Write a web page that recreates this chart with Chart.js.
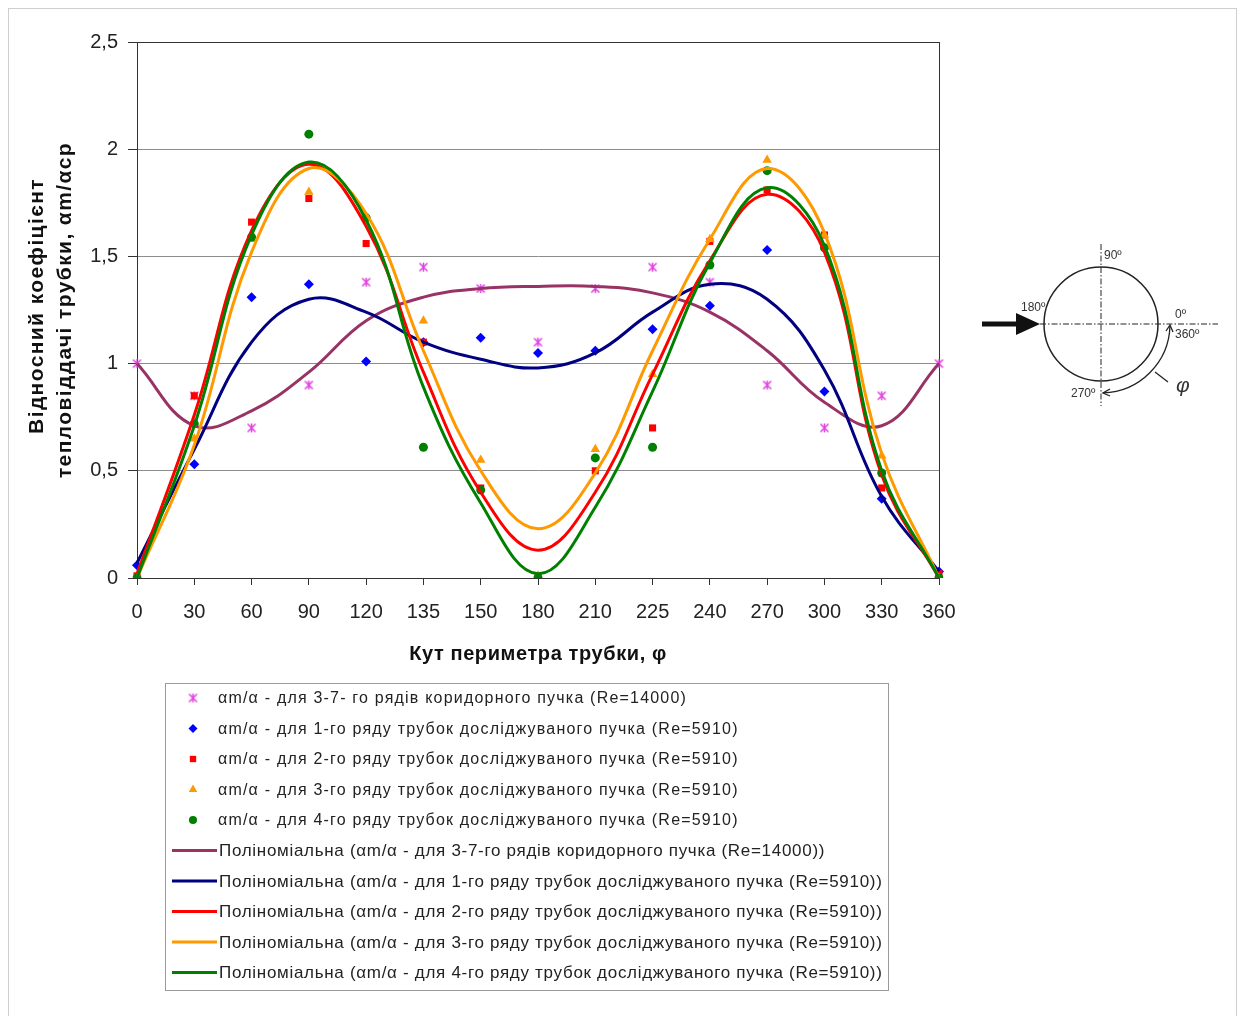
<!DOCTYPE html>
<html>
<head>
<meta charset="utf-8">
<script src="https://cdn.jsdelivr.net/npm/chart.js@4.4.1/dist/chart.umd.min.js"></script>
<style>
  html, body { margin: 0; padding: 0; background: #fff; }
  #wrap { width: 1240px; height: 1016px; position: relative; }
</style>
</head>
<body>
<div id="wrap"><canvas id="myChart" width="1240" height="1016"></canvas></div>
<script>
// кути по периметру трубки (категорії осі X)
const angles = ['0', '30', '60', '90', '120', '135', '150', '180', '210', '225', '240', '270', '300', '330', '360'];

// виміряні точки αm/α
const row37 = [1.00, 0.85, 0.70, 0.90, 1.38, 1.45, 1.35, 1.10, 1.35, 1.45, 1.38, 0.90, 0.70, 0.85, 1.00];
const row1 = [0.06, 0.53, 1.31, 1.37, 1.01, 1.10, 1.12, 1.05, 1.06, 1.16, 1.27, 1.53, 0.87, 0.37, 0.03];
const row2 = [0.01, 0.85, 1.66, 1.77, 1.56, 1.10, 0.42, 0.01, 0.50, 0.70, 1.57, 1.81, 1.60, 0.42, 0.02];
const row3 = [0.00, 0.65, 1.58, 1.80, 1.68, 1.20, 0.55, 0.01, 0.60, 0.95, 1.58, 1.95, 1.60, 0.57, 0.00];
const row4 = [0.00, 0.72, 1.59, 2.07, 1.68, 0.61, 0.41, 0.00, 0.56, 0.61, 1.46, 1.90, 1.54, 0.49, 0.00];

// поліноміальні лінії тренду (значення зчитані з кривих)
const fit37 = [1.00, 0.71, 0.78, 0.96, 1.20, 1.31, 1.35, 1.36, 1.36, 1.33, 1.24, 1.06, 0.82, 0.71, 1.00];
const fit1 = [0.07, 0.60, 1.10, 1.30, 1.24, 1.10, 1.02, 0.98, 1.05, 1.24, 1.37, 1.30, 0.97, 0.38, 0.03];
const fit2 = [0.02, 0.76, 1.62, 1.93, 1.64, 0.96, 0.40, 0.13, 0.40, 0.95, 1.48, 1.79, 1.52, 0.48, 0.00];
const fit3 = [0.00, 0.62, 1.52, 1.91, 1.70, 1.06, 0.50, 0.23, 0.49, 1.06, 1.58, 1.91, 1.61, 0.58, 0.00];
const fit4 = [0.00, 0.71, 1.60, 1.94, 1.67, 0.89, 0.35, 0.02, 0.33, 0.87, 1.47, 1.82, 1.55, 0.50, 0.00];

const yTitle = ['Відносний коефіцієнт', 'тепловіддачі трубки, αm/αcp'];
const xTitle = 'Кут периметра трубки, φ';

const FONT = "'Liberation Sans', Arial, sans-serif";

// маркер-зірочка як в Excel: косий хрест + вертикальна риска
function excelStar(color) {
    const cv = document.createElement('canvas');
    cv.width = 11;
    cv.height = 11;
    const c = cv.getContext('2d');
    c.strokeStyle = color;
    c.lineWidth = 1.5;
    c.beginPath();
    c.moveTo(1.5, 1.5); c.lineTo(9.5, 9.5);
    c.moveTo(9.5, 1.5); c.lineTo(1.5, 9.5);
    c.moveTo(5.5, 1); c.lineTo(5.5, 10);
    c.stroke();
    return cv;
}

function pointSet(label, data, color, style, r) {
    return {
        label: label,
        data: data,
        showLine: false,
        pointStyle: style,
        pointRadius: r,
        pointBackgroundColor: color,
        pointBorderColor: color,
        pointBorderWidth: 0,
        borderColor: color,
        backgroundColor: color
    };
}

function trendSet(label, data, color) {
    return {
        label: label,
        data: data,
        borderColor: color,
        backgroundColor: color,
        borderWidth: 3,
        pointRadius: 0,
        tension: 0.4,
        fill: false
    };
}

const datasets = [
    pointSet('αm/α - для 3-7- го рядів коридорного пучка (Re=14000)', row37, '#E040E0', excelStar('#E040E0'), 5),
    pointSet('αm/α - для 1-го ряду трубок досліджуваного пучка (Re=5910)', row1, '#0000FF', 'rectRot', 5),
    pointSet('αm/α - для 2-го ряду трубок досліджуваного пучка (Re=5910)', row2, '#FF0000', 'rect', 5),
    pointSet('αm/α - для 3-го ряду трубок досліджуваного пучка (Re=5910)', row3, '#FF9900', 'triangle', 5.5),
    pointSet('αm/α - для 4-го ряду трубок досліджуваного пучка (Re=5910)', row4, '#008000', 'circle', 4.5),
    trendSet('Поліноміальна (αm/α - для 3-7-го рядів коридорного пучка (Re=14000))', fit37, '#993366'),
    trendSet('Поліноміальна (αm/α - для 1-го ряду трубок досліджуваного пучка (Re=5910))', fit1, '#000080'),
    trendSet('Поліноміальна (αm/α - для 2-го ряду трубок досліджуваного пучка (Re=5910))', fit2, '#FF0000'),
    trendSet('Поліноміальна (αm/α - для 3-го ряду трубок досліджуваного пучка (Re=5910))', fit3, '#FF9900'),
    trendSet('Поліноміальна (αm/α - для 4-го ряду трубок досліджуваного пучка (Re=5910))', fit4, '#008000')
];
// пізніші серії малюються зверху, як в Excel
datasets.forEach((d, i) => { d.order = datasets.length - i; });

// рамка області побудови
const plotBorder = {
    id: 'plotBorder',
    beforeDatasetsDraw(chart) {
        const a = chart.chartArea;
        const c = chart.ctx;
        c.save();
        c.strokeStyle = '#333';
        c.lineWidth = 1;
        c.strokeRect(Math.round(a.left) + 0.5, Math.round(a.top) + 0.5, Math.round(a.right - a.left), Math.round(a.bottom - a.top));
        c.restore();
    }
};

// підписи осей (з розрядкою, як в оригіналі)
const axisTitles = {
    id: 'axisTitles',
    afterDraw(chart) {
        const c = chart.ctx;
        const a = chart.chartArea;
        c.save();
        c.fillStyle = '#111';
        c.textAlign = 'center';
        c.textBaseline = 'middle';
        c.font = 'bold 20px ' + FONT;
        c.letterSpacing = '0.6px';
        c.fillText(xTitle, (a.left + a.right) / 2, 654);

        c.font = 'bold 21px ' + FONT;
        c.letterSpacing = '1.4px';
        c.translate(37, 306);
        c.rotate(-Math.PI / 2);
        c.fillText(yTitle[0], 0, 0);
        c.fillText(yTitle[1], -4, 28);
        c.restore();
    }
};

// легенда в рамці під графіком
const boxLegend = {
    id: 'boxLegend',
    afterDraw(chart) {
        const c = chart.ctx;
        c.save();
        c.strokeStyle = '#9a9a9a';
        c.lineWidth = 1;
        c.strokeRect(165.5, 683.5, 723, 307);
        c.textBaseline = 'middle';
        chart.data.datasets.forEach((ds, i) => {
            const y = 698 + i * 30.5;
            if (ds.showLine === false) {
                c.fillStyle = ds.pointBackgroundColor;
                c.strokeStyle = ds.pointBorderColor;
                c.lineWidth = 1;
                Chart.helpers.drawPoint(c, {
                    pointStyle: ds.pointStyle,
                    radius: ds.pointRadius * 0.9,
                    rotation: 0,
                    borderWidth: 0
                }, 193, y);
                c.fillStyle = '#222';
                c.font = '16px ' + FONT;
                c.letterSpacing = '1.2px';
                c.fillText(ds.label, 218, y + 1);
            } else {
                c.strokeStyle = ds.borderColor;
                c.lineWidth = 3;
                c.beginPath();
                c.moveTo(172, y);
                c.lineTo(217, y);
                c.stroke();
                c.fillStyle = '#222';
                c.font = '17px ' + FONT;
                c.letterSpacing = '0.7px';
                c.fillText(ds.label, 219, y + 1);
            }
        });
        c.restore();
    }
};

// схема обтікання трубки праворуч
const tubeSketch = {
    id: 'tubeSketch',
    afterDraw(chart) {
        const c = chart.ctx;
        const cx = 1101, cy = 324, r = 57;
        c.save();
        c.strokeStyle = '#222';
        c.fillStyle = '#111';

        c.lineWidth = 1;
        c.setLineDash([6, 2, 1.5, 2]);
        c.beginPath();
        c.moveTo(1040, cy); c.lineTo(1218, cy);
        c.moveTo(cx, 244); c.lineTo(cx, 406);
        c.stroke();
        c.setLineDash([]);

        c.lineWidth = 1.5;
        c.beginPath();
        c.arc(cx, cy, r, 0, Math.PI * 2);
        c.stroke();

        // стрілка потоку
        c.fillRect(982, cy - 2.5, 38, 5);
        c.beginPath();
        c.moveTo(1040, cy); c.lineTo(1016, cy - 11); c.lineTo(1016, cy + 11);
        c.closePath();
        c.fill();

        // дуга кута φ
        const R = 69;
        c.lineWidth = 1.3;
        c.beginPath();
        c.arc(cx, cy, R, 0.03, Math.PI / 2 - 0.03);
        c.stroke();
        c.beginPath();
        c.moveTo(cx + R - 4, cy + 7); c.lineTo(cx + R, cy + 1); c.lineTo(cx + R + 3, cy + 8);
        c.moveTo(cx + 9, cy + R - 4); c.lineTo(cx + 2, cy + R); c.lineTo(cx + 9, cy + R + 3);
        c.stroke();
        c.beginPath();
        c.moveTo(1155, 372); c.lineTo(1168, 382);
        c.stroke();

        c.fillStyle = '#333';
        c.font = '12px ' + FONT;
        c.textBaseline = 'middle';
        c.textAlign = 'left';
        c.fillText('90º', 1104, 256);
        c.fillText('180º', 1021, 308);
        c.fillText('0º', 1175, 315);
        c.fillText('360º', 1175, 335);
        c.fillText('270º', 1071, 394);
        c.font = 'italic 21px ' + FONT;
        c.fillText('φ', 1176, 386);
        c.restore();
    }
};

// зовнішня рамка рисунка
const outerFrame = {
    id: 'outerFrame',
    beforeDraw(chart) {
        const c = chart.ctx;
        c.save();
        c.fillStyle = '#fff';
        c.fillRect(0, 0, chart.width, chart.height);
        c.strokeStyle = '#cfcfcf';
        c.lineWidth = 1;
        c.strokeRect(8.5, 8.5, 1228, 1012);
        c.restore();
    }
};

const ctx = document.getElementById('myChart').getContext('2d');
const myChart = new Chart(ctx, {
    type: 'line',
    data: {
        labels: angles,
        datasets: datasets
    },
    options: {
        responsive: false,
        animation: false,
        layout: {
            padding: { left: 20, right: 301, top: 42, bottom: 346 }
        },
        plugins: {
            legend: { display: false },
            tooltip: { enabled: false }
        },
        scales: {
            x: {
                type: 'category',
                offset: false,
                afterFit(s) { s.height = 92; },
                grid: { display: true, drawOnChartArea: false, tickLength: 7, tickColor: '#333' },
                border: { color: '#333' },
                ticks: {
                    color: '#222',
                    font: { size: 20, family: FONT },
                    padding: 15,
                    maxRotation: 0,
                    autoSkip: false
                }
            },
            y: {
                min: 0,
                max: 2.5,
                afterFit(s) { s.width = 117; },
                grid: { color: '#8c8c8c', tickLength: 9, tickColor: '#333' },
                border: { color: '#333' },
                ticks: {
                    stepSize: 0.5,
                    color: '#222',
                    font: { size: 20, family: FONT },
                    padding: 10,
                    callback: v => String(v).replace('.', ',')
                }
            }
        }
    },
    plugins: [outerFrame, plotBorder, axisTitles, boxLegend, tubeSketch]
});
</script>
</body>
</html>
